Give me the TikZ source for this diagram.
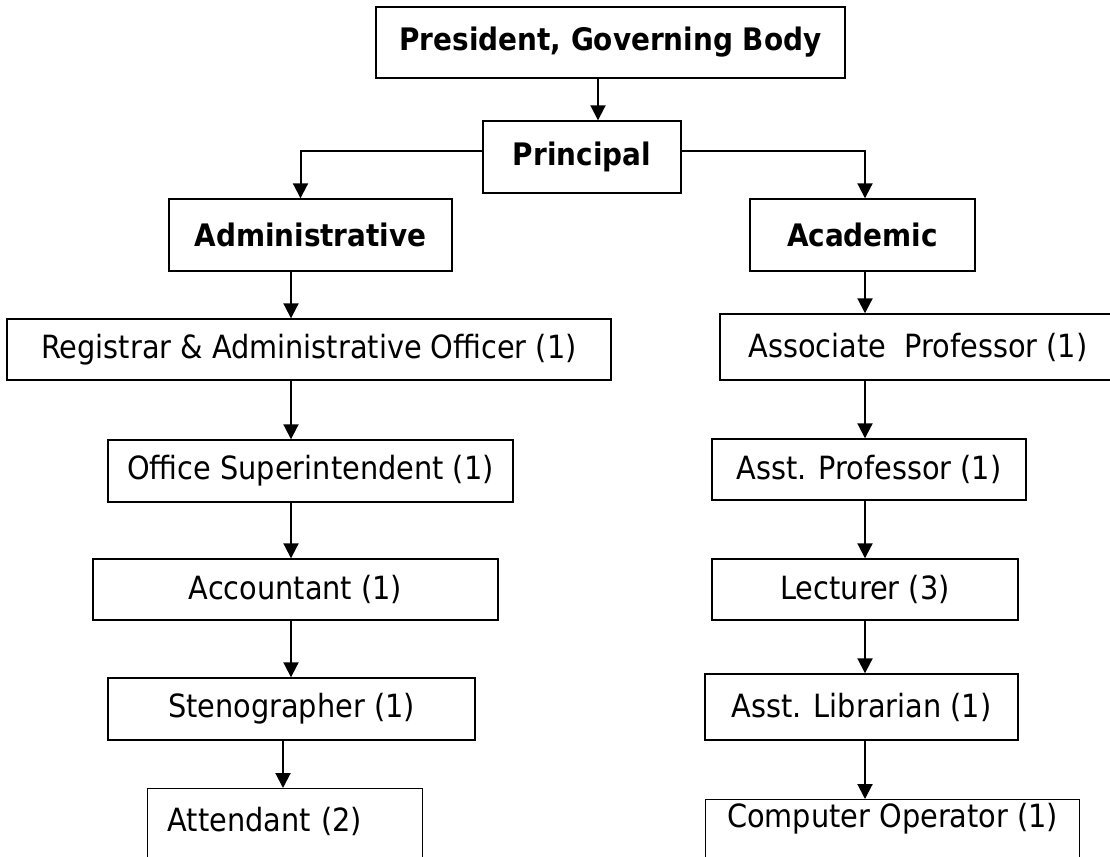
\documentclass[tikz,border=0pt]{standalone}
\usepackage{fontspec}
\setmainfont{DejaVu Sans Condensed}
\usetikzlibrary{arrows.meta, positioning}

\begin{document}
\begin{tikzpicture}[
    % GLOBAL CFG
    x=1pt, y=-1pt,
    font=\fontsize{32}{38}\selectfont,
    >={Triangle[width=15pt,length=15pt]},
    % Styles
    post/.style={% For every box
        rectangle,
        draw,
        line width=1.4pt,
        inner sep=0pt,
        },
    head/.style={% For the bold boxes at the top
        post,
        font=\fontsize{31}{37}\selectfont\bfseries,
        },
    link/.style={% For the arrows
        ->,
        line width=2pt,
        }
    ]

    \useasboundingbox (0,0) rectangle (1110,856);

    % Draw the top boxes
    \node [head, minimum width=469pt, minimum height=71pt] (pres) at (610.5,42.5) {President, Governing Body};
    \node [head, minimum width=198pt, minimum height=72pt] (princ) at (582,157) {Principal};
    \node [head, minimum width=283pt, minimum height=72pt] (admin) at (310.5,235) {Administrative};
    \node [head, minimum width=225pt, minimum height=72pt] (acad) at (862.5,235) {Academic};

    % Draw the administrative posts
    \node [post, minimum width=604pt, minimum height=61pt] (reg) at (309,349.5) {Registrar \& Administrative Officer (1)};
    \node [post, minimum width=405pt, minimum height=62pt] (office) at (310.5,471) {Office Superintendent (1)};
    \node [post, minimum width=405pt, minimum height=61pt] (acct) at (295.5,589.5) {Accountant (1)};
    \node [post, minimum width=367pt, minimum height=62pt] (steno) at (291.5,709) {Stenographer (1)};
    \node [post, anchor=north west, text width=235pt, inner xsep=20pt, text height=43pt, text depth=57pt] (attend) at (147,788) {Attendant (2)};

    % Draw the academic posts
    \node [post, minimum width=396pt, minimum height=66pt] (assoc) at (918,347) {Associate\ \ Professor (1)};
    \node [post, minimum width=314pt, minimum height=61pt] (asstprof) at (869,469.5) {Asst. Professor (1)};
    \node [post, minimum width=306pt, minimum height=61pt] (lect) at (865,589.5) {Lecturer (3)};
    \node [post, minimum width=313pt, minimum height=66pt] (alib) at (861.5,707) {Asst. Librarian (1)};
    \node [post, anchor=north west, minimum width=374pt, text height=28pt, text depth=62pt] (compop) at (705,799) {Computer Operator (1)};

    % Columns for the arrows
    \coordinate (top) at (598,0);
    \coordinate (lcol) at (291,0);
    \coordinate (lcol2) at (283,0);
    \coordinate (rcol) at (865,0);

    % Drawing arrows
    \draw [link] (pres.south -| top) -- (princ.north -| top);
    \draw [link] ([yshift=6pt]princ.west) -| ([xshift=-10pt]admin.north);
    \draw [link] ([yshift=6pt]princ.east) -| (acad.north -| rcol);

    % Administrative
    \draw [link] (admin.south -| lcol) -- (reg.north -| lcol);
    \draw [link] (reg.south -| lcol) -- (office.north -| lcol);
    \draw [link] (office.south -| lcol) -- (acct.north -| lcol);
    \draw [link] (acct.south -| lcol) -- (steno.north -| lcol);
    \draw [link] (steno.south -| lcol2) -- (attend.north -| lcol2);

    % Academic
    \draw [link] (acad.south -| rcol) -- (assoc.north -| rcol);
    \draw [link] (assoc.south -| rcol) -- (asstprof.north -| rcol);
    \draw [link] (asstprof.south -| rcol) -- (lect.north -| rcol);
    \draw [link] (lect.south -| rcol) -- (alib.north -| rcol);
    \draw [link] (alib.south -| rcol) -- (compop.north -| rcol);

\end{tikzpicture}
\end{document}
